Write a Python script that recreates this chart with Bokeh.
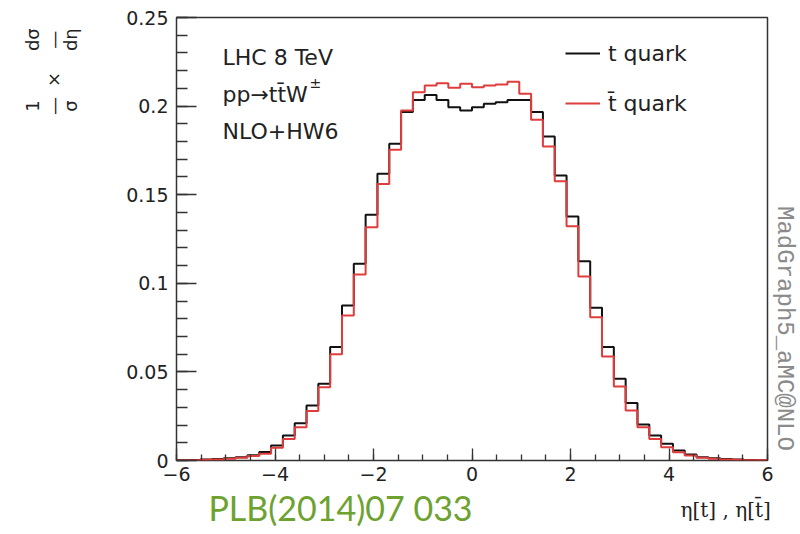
import numpy as np
from bokeh.plotting import figure
from bokeh.models import (Range1d, SingleIntervalTicker, FixedTicker, CustomJSTickFormatter,
                          LinearAxis, Label, Legend, LegendItem)
from bokeh.embed import file_html
from bokeh.resources import INLINE

# ---------------- data ----------------
ETA_LO, ETA_HI, N_BINS = -6.0, 6.0, 50

t_quark = [0.0002, 0.0003, 0.0005, 0.0008, 0.0013, 0.0019, 0.0030, 0.0048, 0.0085, 0.0141,
           0.0210, 0.0310, 0.0433, 0.0640, 0.0875, 0.1110, 0.1387, 0.1618, 0.1787, 0.1966,
           0.2035, 0.2063, 0.2035, 0.1994, 0.1975, 0.1994, 0.2013, 0.2022, 0.2035, 0.2035,
           0.1966, 0.1828, 0.1608, 0.1377, 0.1125, 0.0862, 0.0640, 0.0461, 0.0324, 0.0203,
           0.0141, 0.0094, 0.0056, 0.0034, 0.0019, 0.0013, 0.0008, 0.0005, 0.0003, 0.0002]

tbar_quark = [0.0001, 0.0002, 0.0004, 0.0006, 0.0010, 0.0016, 0.0025, 0.0038, 0.0072, 0.0122,
              0.0188, 0.0280, 0.0414, 0.0600, 0.0818, 0.1050, 0.1317, 0.1560, 0.1753, 0.1975,
              0.2078, 0.2116, 0.2129, 0.2103, 0.2126, 0.2107, 0.2116, 0.2122, 0.2137, 0.2069,
              0.1923, 0.1772, 0.1576, 0.1322, 0.1038, 0.0809, 0.0587, 0.0418, 0.0282, 0.0188,
              0.0122, 0.0075, 0.0047, 0.0028, 0.0016, 0.0010, 0.0006, 0.0004, 0.0002, 0.0001]

series_labels = ["t quark", "t\u0304 quark"]
info_lines = ["LHC 8 TeV", "pp\u2192tt\u0304W", "NLO+HW6"]
# y title  1/sigma x dsigma/deta, split in numerators / bars / denominators
y_title_num = ["d\u03c3", "1"]
y_title_mid = ["\u2014", "\u00d7", "\u2014"]
y_title_den = ["d\u03b7", "\u03c3"]
x_title = "\u03b7[t] , \u03b7[t\u0304]"
generator_tag = "MadGraph5_aMC@NLO"
reference_tag = "PLB(2014)07 033"

edges = np.linspace(ETA_LO, ETA_HI, N_BINS + 1)

# ---------------- figure ----------------
W, H = 800, 534
p = figure(width=W, height=H, output_backend="svg", toolbar_location=None,
           x_range=Range1d(ETA_LO, ETA_HI), y_range=Range1d(0, 0.25),
           min_border_left=176, min_border_right=30, min_border_top=17, min_border_bottom=74)
p.background_fill_color = "white"
p.border_fill_color = "white"
p.outline_line_color = "#333333"
p.outline_line_width = 1.5
p.xgrid.grid_line_color = None
p.ygrid.grid_line_color = None

for ax in (p.xaxis[0], p.yaxis[0]):
    ax.axis_line_color = None
    ax.major_tick_out = 0
    ax.minor_tick_out = 0
    ax.major_tick_line_color = "#333333"
    ax.minor_tick_line_color = "#333333"
    ax.major_tick_line_width = 1.3
    ax.minor_tick_line_width = 1.3
    ax.major_label_text_font = "DejaVu Sans"
    ax.major_label_text_font_size = "19px"
    ax.major_label_text_color = "#222222"

p.xaxis.ticker = SingleIntervalTicker(interval=2, num_minor_ticks=4)
p.xaxis.major_tick_in = 12
p.xaxis.minor_tick_in = 6
p.xaxis.major_label_standoff = 6

p.yaxis.ticker = SingleIntervalTicker(interval=0.05, num_minor_ticks=5)
p.yaxis.major_tick_in = 20
p.yaxis.minor_tick_in = 11
p.yaxis.major_label_standoff = 8
p.yaxis.formatter = CustomJSTickFormatter(code="return String(Math.round(tick*100)/100)")

r_t = p.step(list(edges), t_quark + [t_quark[-1]], mode="after",
             line_color="#111111", line_width=2)
r_tb = p.step(list(edges), tbar_quark + [tbar_quark[-1]], mode="after",
              line_color="#e03c3c", line_width=2)

legend = Legend(items=[LegendItem(label=series_labels[0], renderers=[r_t]),
                       LegendItem(label=series_labels[1], renderers=[r_tb])],
                location=(389, 344), glyph_width=35, glyph_height=26, label_height=26,
                label_standoff=8, spacing=24, padding=0, margin=0,
                border_line_color=None, background_fill_alpha=0,
                label_text_font="DejaVu Sans", label_text_font_size="22px",
                label_text_color="#222222")
p.add_layout(legend)

# text inside the frame (frame origin: page x 176, y 460)
def lab(text, px, py, size, baseline="alphabetic"):
    return Label(x=px - 176, y=460 - py, x_units="screen", y_units="screen", text=text,
                 text_font="DejaVu Sans", text_font_size=f"{size}px", text_color="#222222",
                 text_align="left", text_baseline=baseline)

p.add_layout(lab(info_lines[0], 222, 57, 22))
p.add_layout(lab(info_lines[1], 222, 94, 22))
p.add_layout(lab("\u00b1", 309, 82, 14))
p.add_layout(lab(info_lines[2], 222, 131, 22))


# texts outside the frame: label-only axes in the side panels
def text_axis(side, ticks, labels, font, size, color, standoff, orientation="horizontal"):
    fmt = CustomJSTickFormatter(
        args=dict(tv=list(ticks), tl=list(labels)),
        code="for (let i = 0; i < tv.length; i++) { if (Math.abs(tv[i] - tick) < 1e-9) return tl[i]; } return '';")
    ax = LinearAxis(ticker=FixedTicker(ticks=list(ticks), minor_ticks=[]), formatter=fmt,
                    axis_line_color=None, major_tick_line_color=None,
                    minor_tick_line_color=None, major_tick_in=0, major_tick_out=0,
                    minor_tick_in=0, minor_tick_out=0, major_label_standoff=standoff,
                    major_label_text_font=font, major_label_text_font_size=f"{size}px",
                    major_label_text_color=color, major_label_orientation=orientation)
    p.add_layout(ax, side)
    return ax

# y title (rotated fraction): denominators, bars, numerators, from the frame outwards
Y_TOP, Y_MID, Y_BOT = 0.2375, 0.215, 0.2
text_axis("left", [Y_TOP, Y_BOT], y_title_den, "DejaVu Sans", 18, "#222222", 42,
          orientation="vertical")
text_axis("left", [Y_TOP, Y_MID, Y_BOT], y_title_mid, "DejaVu Sans", 18, "#222222", -7,
          orientation="vertical")
text_axis("left", [Y_TOP, Y_BOT], y_title_num, "DejaVu Sans", 18, "#222222", -3,
          orientation="vertical")
# generator tag on the right
text_axis("right", [0.0745], [generator_tag], "Liberation Mono", 24, "#8a8a8a", 3,
          orientation="vertical")
# reference tag and x title below
text_axis("below", [-2.67], [reference_tag], "Lato", 34, "#6da230", 3)
text_axis("below", [5.15], [x_title], "DejaVu Serif", 20, "#222222", -33)

open("out.html", "w").write(file_html(p, INLINE))
